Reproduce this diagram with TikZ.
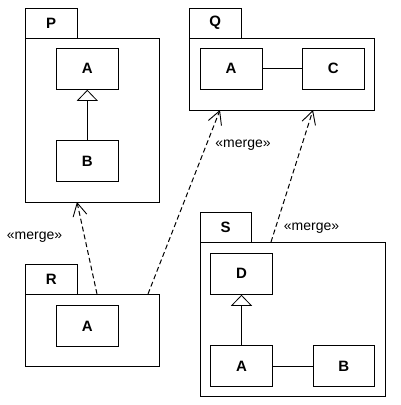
\documentclass[tikz,border=0pt]{standalone}
\usepackage{fontspec}
\setmainfont{Liberation Sans}
\usetikzlibrary{arrows.meta, positioning}

\begin{document}
\begin{tikzpicture}[x=1pt, y=-1pt, line width=1pt,
    pkgbody/.style={draw, inner sep=0pt, outer sep=0pt},
    pkgtab/.style={draw, inner sep=0pt, outer sep=0pt, minimum width=51.5pt, minimum height=30pt,
        font=\bfseries\fontsize{15}{17}\selectfont},
    cls/.style={draw, inner sep=0pt, minimum width=62pt, minimum height=41pt,
        font=\bfseries\fontsize{15}{17}\selectfont},
    gen/.style={-{Triangle[open, length=11pt, width=21pt, line width=0.8pt]}},
    merge/.style={dash pattern=on 5pt off 3pt, -{Straight Barb[length=13pt, width=14pt, line width=0.9pt]}},
    lbl/.style={font=\fontsize{14}{16}\selectfont}]
    \useasboundingbox (0,0) rectangle (401,405);

    % Package P
    \node[pkgbody, minimum width=134pt, minimum height=164pt] (Pbody) at (92.5,120) {};
    \node[pkgtab, above right=0pt and 0pt of Pbody.north west] (Ptab) {P};
    \node[cls] (Pa) at (87.3,68.8) {A};
    \node[cls] (Pb) at (87.3,161.3) {B};
    \draw[gen] (Pb) -- (Pa);

    % Package Q
    \node[pkgbody, minimum width=184.5pt, minimum height=72pt] (Qbody) at (281.75,74) {};
    \node[pkgtab, above right=0pt and 0pt of Qbody.north west] (Qtab) {Q};
    \node[cls] (Qa) at (231,68.8) {A};
    \node[cls] (Qc) at (333.3,68.8) {C};
    \draw (Qa) -- (Qc);

    % Package R
    \node[pkgbody, minimum width=134pt, minimum height=72pt] (Rbody) at (92.5,330) {};
    \node[pkgtab, above right=0pt and 0pt of Rbody.north west] (Rtab) {R};
    \node[cls] (Ra) at (87.3,325.9) {A};

    % Package S
    \node[pkgbody, minimum width=185pt, minimum height=154.7pt] (Sbody) at (292.5,319.35) {};
    \node[pkgtab, above right=0pt and 0pt of Sbody.north west] (Stab) {S};
    \node[cls] (Sd) at (241.5,273.8) {D};
    \node[cls] (Sa) at (241.5,366.3) {A};
    \node[cls, minimum width=61pt] (Sb) at (343.8,366.3) {B};
    \draw[gen] (Sa) -- (Sd);
    \draw (Sa) -- (Sb);

    % merge dependencies
    \draw[merge] ([xshift=4.5pt]Rbody.north) -- ([xshift=-15.5pt]Pbody.south);
    \draw[merge] ([xshift=55.5pt]Rbody.north) -- ([xshift=-61.75pt]Qbody.south);
    \draw[merge] ([xshift=-21.5pt]Sbody.north) -- ([xshift=31.25pt]Qbody.south);
    \node[lbl] (m1) at (34.5,237.5) {«merge»};
    \node[lbl] (m2) at (243,145) {«merge»};
    \node[lbl] (m3) at (311.5,228) {«merge»};
\end{tikzpicture}
\end{document}
